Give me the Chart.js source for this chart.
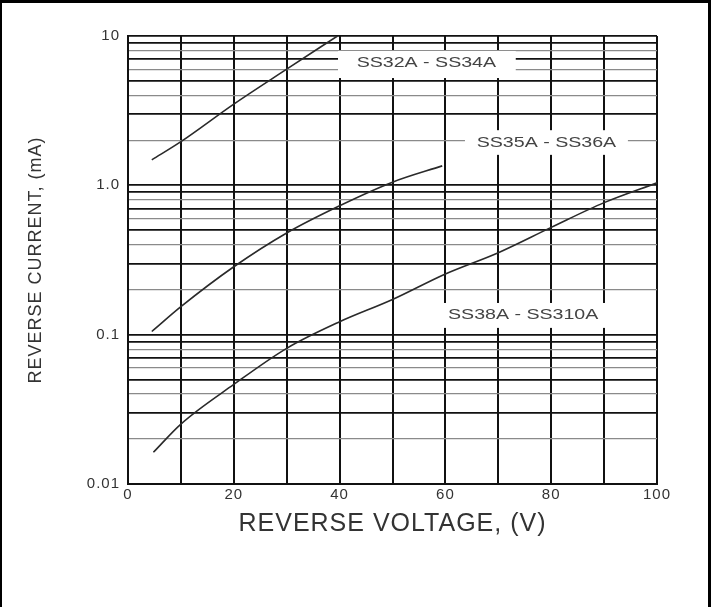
<!DOCTYPE html>
<html>
<head>
<meta charset="utf-8">
<script src="https://cdn.jsdelivr.net/npm/chart.js@4/dist/chart.umd.min.js"></script>
<style>
  html, body { margin: 0; padding: 0; background: #fff; }
  #wrap { position: relative; width: 716px; height: 607px; }
  #frame { position: absolute; left: 0; top: 0; width: 706px; height: 604px;
           border-left: 2px solid #000; border-top: 3px solid #000; border-right: 3px solid #000; }
  #chart { position: absolute; left: 0; top: 0; }
</style>
</head>
<body>
<div id="wrap">
  <div id="frame"></div>
  <canvas id="chart" width="716" height="607"></canvas>
</div>
<script>
// values (V, mA)
var voltsSS32 = [4.5, 10, 20, 30, 39.6];
var currentSS32 = [1.48, 1.96, 3.5, 6.0, 10];

var voltsSS35 = [4.5, 10, 20, 30, 40, 50, 59.4];
var currentSS35 = [0.105, 0.154, 0.285, 0.48, 0.73, 1.05, 1.35];

var voltsSS38 = [4.8, 10, 20, 30, 40, 50, 60, 70, 80, 90, 100];
var currentSS38 = [0.0163, 0.0252, 0.0464, 0.081, 0.122, 0.172, 0.255, 0.354, 0.523, 0.766, 1.04];

var seriesNames = ['SS32A - SS34A', 'SS35A - SS36A', 'SS38A - SS310A'];

// axis ticks
var xTickValues = [0, 10, 20, 30, 40, 50, 60, 70, 80, 90, 100];
var xTickLabels = ['0', '', '20', '', '40', '', '60', '', '80', '', '100'];
var yTickValues = [0.01, 0.02, 0.03, 0.04, 0.05, 0.06, 0.07, 0.08, 0.09,
                   0.1, 0.2, 0.3, 0.4, 0.5, 0.6, 0.7, 0.8, 0.9,
                   1, 2, 3, 4, 5, 6, 7, 8, 9, 10];
var yTickLabels = ['0.01', '', '', '', '', '', '', '', '',
                   '0.1', '', '', '', '', '', '', '', '',
                   '1.0', '', '', '', '', '', '', '', '', '10'];

// where the curve names sit: text centre and white box, in (V, mA)
var curveLabels = [
    { text: seriesNames[0], at: [56.4, 6.56], box: [39.7, 73.3, 7.94, 5.23] },
    { text: seriesNames[1], at: [79.1, 1.93], box: [63.7, 94.5, 2.34, 1.60] },
    { text: seriesNames[2], at: [74.7, 0.135], box: [59.0, 91.5, 0.163, 0.111] }
];

function toPoints(xs, ys) {
    return xs.map(function (v, i) { return { x: v, y: ys[i] }; });
}

var lineStyle = {
    showLine: true,
    borderColor: '#2a2a2a',
    borderWidth: 1.6,
    pointRadius: 0,
    cubicInterpolationMode: 'monotone'
};

var spacingPlugin = {
    id: 'spacing',
    beforeDraw: function (chart) {
        chart.ctx.letterSpacing = '1px';
    }
};

var labelPlugin = {
    id: 'curveLabels',
    beforeDatasetsDraw: function (chart) {
        var ctx = chart.ctx;
        var x = chart.scales.x, y = chart.scales.y;
        curveLabels.forEach(function (l) {
            var left = x.getPixelForValue(l.box[0]);
            var right = x.getPixelForValue(l.box[1]);
            var top = y.getPixelForValue(l.box[2]);
            var bottom = y.getPixelForValue(l.box[3]);
            ctx.save();
            ctx.fillStyle = '#fff';
            ctx.fillRect(left, top, right - left, bottom - top);
            ctx.translate(x.getPixelForValue(l.at[0]), y.getPixelForValue(l.at[1]));
            ctx.scale(1.4, 1);
            ctx.letterSpacing = '0px';
            ctx.font = '14px "Liberation Sans", Arial, sans-serif';
            ctx.fillStyle = '#444';
            ctx.textAlign = 'center';
            ctx.textBaseline = 'middle';
            ctx.fillText(l.text, 0, 0);
            ctx.restore();
        });
    }
};

var ctx = document.getElementById('chart').getContext('2d');
var chart = new Chart(ctx, {
    type: 'scatter',
    data: {
        datasets: [
            Object.assign({ label: seriesNames[0], data: toPoints(voltsSS32, currentSS32) }, lineStyle),
            Object.assign({ label: seriesNames[1], data: toPoints(voltsSS35, currentSS35) }, lineStyle),
            Object.assign({ label: seriesNames[2], data: toPoints(voltsSS38, currentSS38) }, lineStyle)
        ]
    },
    options: {
        responsive: false,
        animation: false,
        events: [],
        layout: { padding: { left: 25, right: 59, top: 36, bottom: 68 } },
        plugins: {
            legend: { display: false },
            tooltip: { enabled: false }
        },
        scales: {
            x: {
                type: 'linear',
                min: 0,
                max: 100,
                afterBuildTicks: function (scale) {
                    scale.ticks = xTickValues.map(function (v) { return { value: v }; });
                },
                afterFit: function (scale) { scale.height = 55; },
                ticks: {
                    autoSkip: false,
                    maxRotation: 0,
                    padding: 2,
                    color: '#333',
                    font: { family: '"Liberation Sans", Arial, sans-serif', size: 15 },
                    callback: function (v, i) { return xTickLabels[i]; }
                },
                grid: { color: '#111', lineWidth: 2, drawTicks: false },
                border: { color: '#111', width: 2 },
                title: {
                    display: true,
                    text: 'REVERSE VOLTAGE, (V)',
                    color: '#333',
                    padding: 0,
                    font: { family: '"Liberation Sans", Arial, sans-serif', size: 25 }
                }
            },
            y: {
                type: 'logarithmic',
                min: 0.01,
                max: 10,
                afterBuildTicks: function (scale) {
                    scale.ticks = yTickValues.map(function (v) { return { value: v }; });
                },
                afterFit: function (scale) { scale.width = 103; },
                ticks: {
                    autoSkip: false,
                    padding: 8,
                    color: '#333',
                    font: { family: '"Liberation Sans", Arial, sans-serif', size: 15 },
                    callback: function (v, i) { return yTickLabels[i]; }
                },
                grid: {
                    drawTicks: false,
                    color: function (c) { return (c.index % 9) % 2 === 0 ? '#111' : '#8a8a8a'; },
                    lineWidth: function (c) { return (c.index % 9) % 2 === 0 ? 1.8 : 1.2; }
                },
                border: { color: '#111', width: 2 },
                title: {
                    display: true,
                    text: 'REVERSE CURRENT, (mA)',
                    color: '#333',
                    padding: 0,
                    font: { family: '"Liberation Sans", Arial, sans-serif', size: 18 }
                }
            }
        }
    },
    plugins: [spacingPlugin, labelPlugin]
});
</script>
</body>
</html>
